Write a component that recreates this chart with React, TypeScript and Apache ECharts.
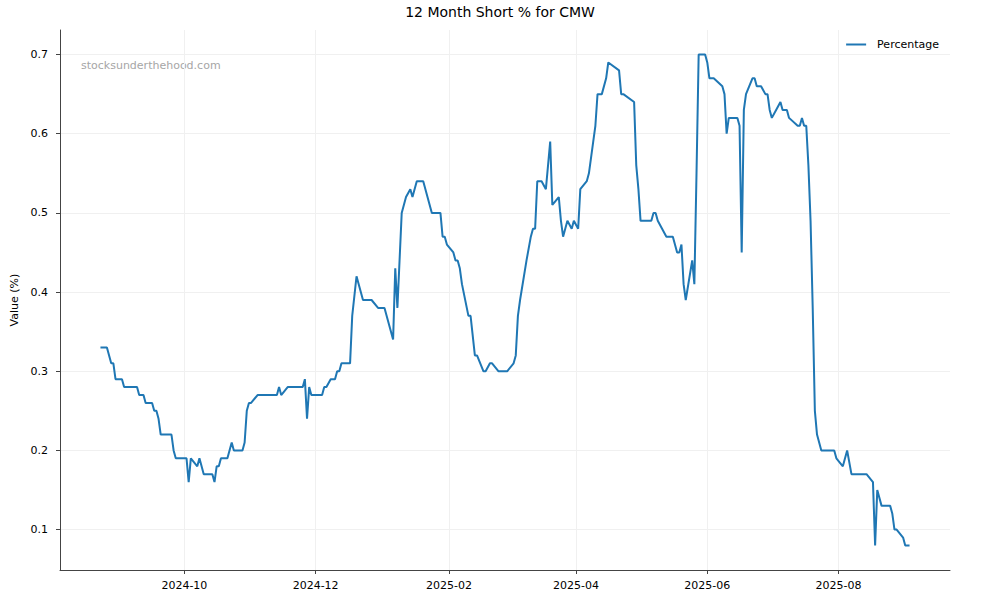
import React, { useEffect, useRef } from "react";
import * as echarts from "echarts";

const TITLE = "12 Month Short % for CMW";
const SERIES_NAME = "Percentage";
const Y_LABEL = "Value (%)";
const WATERMARK = "stocksunderthehood.com";

const dates: string[] = [
  "2024-08-23", "2024-08-26", "2024-08-28", "2024-08-29", "2024-08-30", "2024-09-02", "2024-09-03", "2024-09-09",
  "2024-09-10", "2024-09-12", "2024-09-13", "2024-09-16", "2024-09-17", "2024-09-18", "2024-09-19", "2024-09-20",
  "2024-09-25", "2024-09-26", "2024-09-27", "2024-10-02", "2024-10-03", "2024-10-04", "2024-10-07", "2024-10-08",
  "2024-10-10", "2024-10-14", "2024-10-15", "2024-10-16", "2024-10-17", "2024-10-18", "2024-10-21", "2024-10-23",
  "2024-10-24", "2024-10-28", "2024-10-29", "2024-10-30", "2024-10-31", "2024-11-01", "2024-11-04", "2024-11-13",
  "2024-11-14", "2024-11-15", "2024-11-18", "2024-11-25", "2024-11-26", "2024-11-27", "2024-11-28", "2024-11-29",
  "2024-12-04", "2024-12-05", "2024-12-06", "2024-12-08", "2024-12-10", "2024-12-11", "2024-12-12", "2024-12-13",
  "2024-12-17", "2024-12-18", "2024-12-20", "2024-12-23", "2024-12-27", "2024-12-30", "2025-01-02", "2025-01-06",
  "2025-01-07", "2025-01-08", "2025-01-10", "2025-01-12", "2025-01-14", "2025-01-15", "2025-01-17", "2025-01-20",
  "2025-01-24", "2025-01-28", "2025-01-29", "2025-01-30", "2025-01-31", "2025-02-03", "2025-02-04", "2025-02-05",
  "2025-02-06", "2025-02-07", "2025-02-10", "2025-02-11", "2025-02-13", "2025-02-14", "2025-02-17", "2025-02-18",
  "2025-02-20", "2025-02-21", "2025-02-24", "2025-02-28", "2025-03-03", "2025-03-04", "2025-03-05", "2025-03-06",
  "2025-03-09", "2025-03-11", "2025-03-12", "2025-03-13", "2025-03-14", "2025-03-16", "2025-03-18", "2025-03-20",
  "2025-03-21", "2025-03-24", "2025-03-25", "2025-03-26", "2025-03-28", "2025-03-30", "2025-03-31", "2025-04-02",
  "2025-04-03", "2025-04-06", "2025-04-07", "2025-04-09", "2025-04-10", "2025-04-11", "2025-04-13", "2025-04-15",
  "2025-04-16", "2025-04-21", "2025-04-22", "2025-04-23", "2025-04-28", "2025-04-29", "2025-04-30", "2025-05-01",
  "2025-05-06", "2025-05-07", "2025-05-08", "2025-05-09", "2025-05-11", "2025-05-13", "2025-05-16", "2025-05-18",
  "2025-05-19", "2025-05-20", "2025-05-21", "2025-05-22", "2025-05-25", "2025-05-26", "2025-05-27", "2025-05-28",
  "2025-05-31", "2025-06-01", "2025-06-02", "2025-06-04", "2025-06-08", "2025-06-09", "2025-06-10", "2025-06-11",
  "2025-06-15", "2025-06-16", "2025-06-17", "2025-06-18", "2025-06-19", "2025-06-22", "2025-06-23", "2025-06-24",
  "2025-06-26", "2025-06-28", "2025-06-29", "2025-06-30", "2025-07-01", "2025-07-03", "2025-07-05", "2025-07-06",
  "2025-07-08", "2025-07-09", "2025-07-13", "2025-07-14", "2025-07-15", "2025-07-16", "2025-07-17", "2025-07-18",
  "2025-07-19", "2025-07-20", "2025-07-21", "2025-07-22", "2025-07-24", "2025-07-30", "2025-07-31", "2025-08-03",
  "2025-08-05", "2025-08-07", "2025-08-14", "2025-08-17", "2025-08-18", "2025-08-19", "2025-08-21", "2025-08-25",
  "2025-08-26", "2025-08-27", "2025-08-28", "2025-08-31", "2025-09-01", "2025-09-03",
];

const values: number[] = [
  0.33, 0.33, 0.31, 0.31, 0.29, 0.29, 0.28, 0.28,
  0.27, 0.27, 0.26, 0.26, 0.25, 0.25, 0.24, 0.22,
  0.22, 0.20, 0.19, 0.19, 0.16, 0.19, 0.18, 0.19,
  0.17, 0.17, 0.16, 0.18, 0.18, 0.19, 0.19, 0.21,
  0.20, 0.20, 0.21, 0.25, 0.26, 0.26, 0.27, 0.27,
  0.28, 0.27, 0.28, 0.28, 0.29, 0.24, 0.28, 0.27,
  0.27, 0.28, 0.28, 0.29, 0.29, 0.30, 0.30, 0.31,
  0.31, 0.37, 0.42, 0.39, 0.39, 0.38, 0.38, 0.34,
  0.43, 0.38, 0.50, 0.52, 0.53, 0.52, 0.54, 0.54,
  0.50, 0.50, 0.47, 0.47, 0.46, 0.45, 0.44, 0.44,
  0.43, 0.41, 0.37, 0.37, 0.32, 0.32, 0.30, 0.30,
  0.31, 0.31, 0.30, 0.30, 0.31, 0.32, 0.37, 0.39,
  0.44, 0.47, 0.48, 0.48, 0.54, 0.54, 0.53, 0.59,
  0.51, 0.52, 0.49, 0.47, 0.49, 0.48, 0.49, 0.48,
  0.53, 0.54, 0.55, 0.59, 0.61, 0.65, 0.65, 0.67,
  0.69, 0.68, 0.65, 0.65, 0.64, 0.56, 0.53, 0.49,
  0.49, 0.50, 0.50, 0.49, 0.48, 0.47, 0.47, 0.45,
  0.45, 0.46, 0.41, 0.39, 0.44, 0.41, 0.55, 0.70,
  0.70, 0.69, 0.67, 0.67, 0.66, 0.65, 0.60, 0.62,
  0.62, 0.61, 0.45, 0.63, 0.65, 0.67, 0.67, 0.66,
  0.66, 0.65, 0.65, 0.63, 0.62, 0.63, 0.64, 0.63,
  0.63, 0.62, 0.61, 0.61, 0.62, 0.61, 0.61, 0.56,
  0.49, 0.38, 0.25, 0.22, 0.20, 0.20, 0.19, 0.18,
  0.20, 0.17, 0.17, 0.16, 0.08, 0.15, 0.13, 0.13,
  0.12, 0.10, 0.10, 0.09, 0.08, 0.08,
];

const xTickDates: string[] = ["2024-10-01", "2024-12-01", "2025-02-01", "2025-04-01", "2025-06-01", "2025-08-01"];
const yTicks: number[] = [0.1, 0.2, 0.3, 0.4, 0.5, 0.6, 0.7];

const FONT = "DejaVu Sans";

export default function App() {
  const ref = useRef<HTMLDivElement>(null);

  useEffect(() => {
    if (!ref.current) return;
    const chart = echarts.init(ref.current, undefined, { renderer: "svg" });

    const times = dates.map((d) => Date.parse(d));
    const tMin = Math.min(...times);
    const tMax = Math.max(...times);
    const tPad = (tMax - tMin) * 0.05;
    const vMin = Math.min(...values);
    const vMax = Math.max(...values);
    const vPad = (vMax - vMin) * 0.05;

    const pad2 = (n: number) => (n < 10 ? "0" + n : "" + n);
    const xTickVals = xTickDates.map((d) => Date.parse(d));

    chart.setOption({
      animation: false,
      textStyle: { fontFamily: FONT },
      title: {
        text: TITLE,
        left: "center",
        top: 0,
        textStyle: { fontFamily: FONT, fontSize: 14, fontWeight: "normal", color: "#000" },
      },
      legend: {
        right: 56,
        top: 34,
        itemWidth: 20,
        itemHeight: 2,
        icon: "rect",
        textStyle: { fontFamily: FONT, fontSize: 11, color: "#000", padding: [0, 0, 0, 6] },
        data: [SERIES_NAME],
      },
      grid: { left: 60, right: 50, top: 30, bottom: 30, containLabel: false },
      xAxis: {
        type: "value",
        min: tMin - tPad,
        max: tMax + tPad,
        axisLine: { show: true, lineStyle: { color: "#444", width: 1 } },
        axisTick: { show: true, length: 4, inside: false, lineStyle: { color: "#444" }, customValues: xTickVals },
        axisLabel: {
          customValues: xTickVals,
          margin: 10,
          fontFamily: FONT,
          fontSize: 11,
          color: "#000",
          formatter: (val: number) => {
            const d = new Date(val);
            return d.getUTCFullYear() + "-" + pad2(d.getUTCMonth() + 1);
          },
        },
        splitLine: { show: true, lineStyle: { color: "#f0f0f0", width: 1 } },
      },
      yAxis: {
        type: "value",
        min: vMin - vPad,
        max: vMax + vPad,
        name: Y_LABEL,
        nameLocation: "middle",
        nameGap: 35,
        nameTextStyle: { fontFamily: FONT, fontSize: 11, color: "#000" },
        axisLine: { show: true, lineStyle: { color: "#444", width: 1 } },
        axisTick: { show: true, length: 4, inside: false, lineStyle: { color: "#444" }, customValues: yTicks },
        axisLabel: {
          customValues: yTicks,
          margin: 12,
          fontFamily: FONT,
          fontSize: 11,
          color: "#000",
          formatter: (v: number) => String(Math.round(v * 10) / 10),
        },
        splitLine: { show: true, lineStyle: { color: "#f0f0f0", width: 1 } },
      },
      graphic: [
        {
          type: "text",
          left: 81,
          top: 60,
          style: { text: WATERMARK, fill: "#a6a6a6", fontFamily: FONT, fontSize: 11 },
        },
      ],
      series: [
        {
          name: SERIES_NAME,
          type: "line",
          showSymbol: false,
          symbol: "none",
          data: times.map((t, i) => [t, values[i]]),
          lineStyle: { color: "#1f77b4", width: 2 },
          itemStyle: { color: "#1f77b4" },
        },
      ],
    });

    return () => chart.dispose();
  }, []);

  return (
    <div
      ref={ref}
      style={{ position: "fixed", left: 0, top: 0, width: 1000, height: 600, background: "#fff" }}
    />
  );
}
